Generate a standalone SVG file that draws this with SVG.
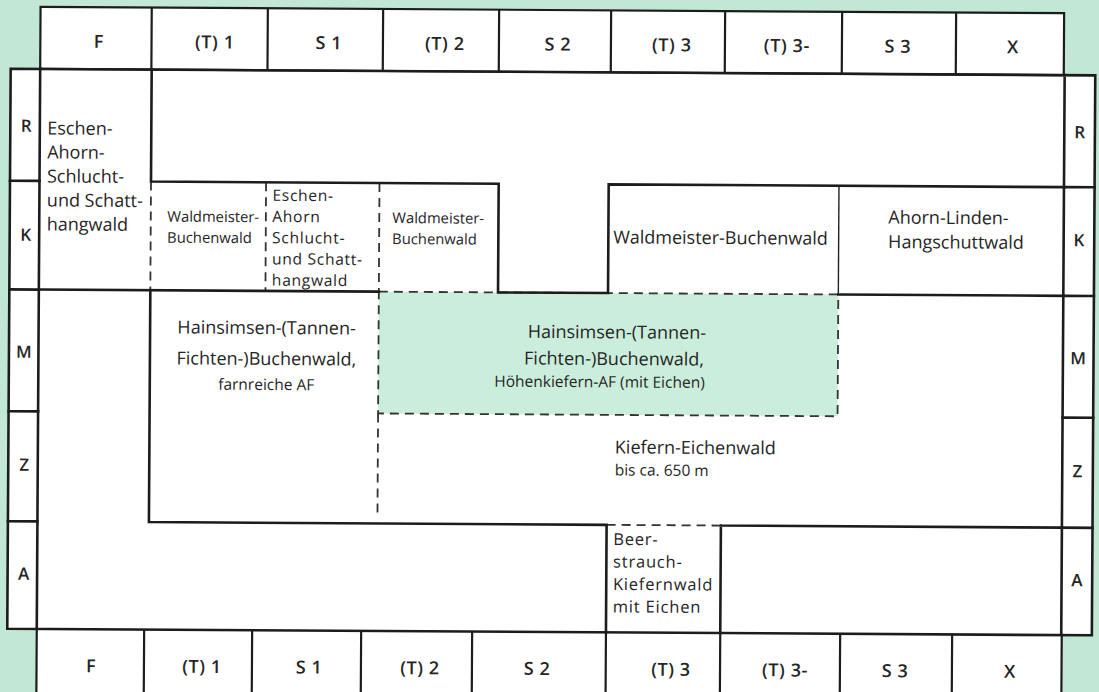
<svg xmlns="http://www.w3.org/2000/svg" width="1099" height="692" viewBox="0 0 1099 692">
<style>
.b{fill:none;stroke:#1c1c1c;stroke-width:2.6;stroke-linecap:square}
.h{fill:none;stroke:#1c1c1c;stroke-width:2.2}
.t{fill:none;stroke:#222;stroke-width:1.4}
.d{fill:none;stroke:#333;stroke-width:1.8;stroke-dasharray:9 6}
text{font-family:"Open Sans","Noto Sans","Liberation Sans",sans-serif;fill:#252525}
.hd{font-size:18px;font-weight:600;text-anchor:middle;letter-spacing:0.6px}
.rl{font-size:17px;font-weight:600;text-anchor:middle}
.L{font-size:18px}
.M{font-size:15.6px;letter-spacing:0.7px}
.B{font-size:16.5px;letter-spacing:0.8px}
.s{font-size:15.5px}
.w{font-size:14.8px}
.c{text-anchor:middle}
.e{text-anchor:end}
</style>
<rect width="1099" height="692" fill="#c2e8d5"/>
<g transform="rotate(0.35 550 346)">
<g id="fills">
<rect x="38.5" y="10" width="1023.6" height="62" fill="#fff"/>
<rect x="9" y="72" width="1084.6" height="560" fill="#fff"/>
<rect x="38.5" y="632" width="1025" height="70" fill="#fff"/>
<rect x="378.5" y="292.7" width="459.5" height="121.8" fill="#cbeddc"/>
</g>
<g id="header-top">
<rect class="h" x="38.5" y="10" width="1023.6" height="62"/>
<path class="h" d="M149.7,10V72M265.8,10V72M381.1,10V72M497.1,10V72M609.1,10V72M723.1,10V72M840.1,10V72M954.1,10V72"/>
<text class="hd" x="97" y="50.5">F</text>
<text class="hd" x="213" y="50.5">(T) 1</text>
<text class="hd" x="327" y="50.5">S 1</text>
<text class="hd" x="443" y="50.5">(T) 2</text>
<text class="hd" x="556" y="50.5">S 2</text>
<text class="hd" x="670" y="50.5">(T) 3</text>
<text class="hd" x="785" y="50.5">(T) 3-</text>
<text class="hd" x="896" y="50.5">S 3</text>
<text class="hd" x="1011" y="50.5">X</text>
</g>
<g id="header-bottom">
<path class="h" d="M38.5,632V700M145.9,632V700M253.9,632V700M362.9,632V700M473.9,632V700M607.7,632V700M722,632V700M841.9,632V700M953.9,632V700M1063.5,632V700"/>
<text class="hd" x="93" y="675">F</text>
<text class="hd" x="204" y="675">(T) 1</text>
<text class="hd" x="311" y="675">S 1</text>
<text class="hd" x="422" y="675">(T) 2</text>
<text class="hd" x="539" y="675">S 2</text>
<text class="hd" x="673" y="675">(T) 3</text>
<text class="hd" x="787" y="675">(T) 3-</text>
<text class="hd" x="897" y="675">S 3</text>
<text class="hd" x="1012" y="675">X</text>
</g>
<g id="row-labels">
<path class="b" d="M9,72H1093.6V632H9ZM38.5,72V632M1063,72V632"/>
<path class="b" d="M9,184H38.5M9,292.7H38.5M9,414.5H38.5M9,524.5H38.5M1063,184H1093.6M1063,292.7H1093.6M1063,414.5H1093.6M1063,524.5H1093.6"/>
<text class="rl" x="25" y="135">R</text>
<text class="rl" x="25" y="244">K</text>
<text class="rl" x="24" y="361">M</text>
<text class="rl" x="25" y="474">Z</text>
<text class="rl" x="25" y="583">A</text>
<text class="rl" x="1078.3" y="135">R</text>
<text class="rl" x="1078.3" y="243">K</text>
<text class="rl" x="1078.3" y="361">M</text>
<text class="rl" x="1078.3" y="474">Z</text>
<text class="rl" x="1078.3" y="583">A</text>
</g>
<g id="dashed-borders">
<path class="d" d="M150,184V292.7M265.1,184V292.7M378.5,184V292.7M378.5,414.5V515M607.7,524.5H722"/>
<rect class="d" x="378.5" y="292.7" width="459.5" height="121.8"/>
</g>
<g id="region-borders">
<path class="b" d="M150,72V184H497.7V292.7H607.7V184H1063"/>
<path class="b" d="M38.5,292.7H378.5M838,292.7H1063"/>
<path class="b" d="M150,292.7V524.5H607.7M722,524.5H1063M607.7,524.5V632M722,524.5V632"/>
<path class="t" d="M838,184V292.7"/>
</g>
<g id="eschen-ahorn-F">
<text class="L" x="46" y="137.5">Eschen-<tspan x="46" dy="24">Ahorn-</tspan><tspan x="46" dy="24">Schlucht-</tspan><tspan x="46" dy="24">und Schatt-</tspan><tspan x="46" dy="24">hangwald</tspan></text>
</g>
<g id="waldmeister-T1">
<text class="w" x="166.5" y="224">Waldmeister-<tspan x="166.5" dy="21">Buchenwald</tspan></text>
</g>
<g id="eschen-ahorn-S1">
<text class="M" x="271.5" y="202.5">Eschen-<tspan x="271.5" dy="21.2">Ahorn</tspan><tspan x="271.5" dy="21.2">Schlucht-</tspan><tspan x="271.5" dy="21.2">und Schatt-</tspan><tspan x="271.5" dy="21.2">hangwald</tspan></text>
</g>
<g id="waldmeister-T2">
<text class="w" x="391.5" y="224">Waldmeister-<tspan x="391.5" dy="21">Buchenwald</tspan></text>
</g>
<g id="waldmeister-buchenwald">
<text class="L" x="612.5" y="243">Waldmeister-Buchenwald</text>
</g>
<g id="ahorn-linden">
<text class="L" x="887.5" y="221.5">Ahorn-Linden-<tspan x="887.5" dy="24.5">Hangschuttwald</tspan></text>
</g>
<g id="hainsimsen-farnreich">
<text class="L c" x="266.5" y="335.7">Hainsimsen-(Tannen-<tspan x="266.5" dy="31">Fichten-)Buchenwald,</tspan><tspan class="s" x="266.5" dy="25">farnreiche AF</tspan></text>
</g>
<g id="hainsimsen-hoehenkiefern">
<text class="L e" x="706" y="338">Hainsimsen-(Tannen-<tspan x="704" dy="26.6">Fichten-)Buchenwald,</tspan><tspan class="s" x="705" dy="22.4">Höhenkiefern-AF (mit Eichen)</tspan></text>
</g>
<g id="kiefern-eichenwald">
<text class="L" x="615.5" y="453">Kiefern-Eichenwald<tspan class="s" x="615.5" dy="22">bis ca. 650 m</tspan></text>
</g>
<g id="beerstrauch">
<text class="B" x="614.4" y="544.5">Beer-<tspan x="614.4" dy="22.5">strauch-</tspan><tspan x="614.4" dy="22.5">Kiefernwald</tspan><tspan x="614.4" dy="22.5">mit Eichen</tspan></text>
</g>
</g>
</svg>
